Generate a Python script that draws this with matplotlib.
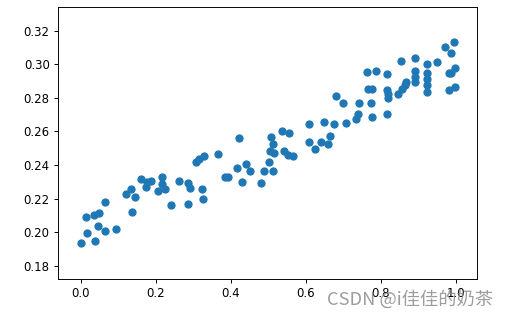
import matplotlib.pyplot as plt

x = [0.0, 0.013, 0.017, 0.037, 0.036, 0.047, 0.046, 0.064, 0.064, 0.093,
     0.12, 0.133, 0.137, 0.144, 0.16, 0.173, 0.175, 0.188, 0.217, 0.217,
     0.206, 0.224, 0.24, 0.262, 0.286, 0.291, 0.286, 0.323, 0.326, 0.307,
     0.316, 0.329, 0.366, 0.384, 0.393, 0.422, 0.415, 0.43, 0.439, 0.452,
     0.48, 0.489, 0.513, 0.502, 0.504, 0.515, 0.513, 0.506, 0.535, 0.555,
     0.542, 0.553, 0.566, 0.609, 0.609, 0.624, 0.64, 0.66, 0.664, 0.649,
     0.675, 0.68, 0.699, 0.706, 0.733, 0.739, 0.742, 0.764, 0.787, 0.766,
     0.775, 0.773, 0.777, 0.815, 0.815, 0.818, 0.82, 0.815, 0.846, 0.855,
     0.864, 0.868, 0.853, 0.892, 0.892, 0.892, 0.892, 0.922, 0.922, 0.922,
     0.922, 0.922, 0.95, 0.972, 0.995, 0.988, 0.997, 0.988, 0.981, 0.982,
     0.997]
y = [0.1935, 0.2093, 0.1994, 0.195, 0.2103, 0.2113, 0.2038, 0.201, 0.2182, 0.2018,
     0.2228, 0.2256, 0.2123, 0.2212, 0.2315, 0.2271, 0.2297, 0.2307, 0.2327, 0.2285,
     0.2248, 0.2256, 0.2161, 0.2307, 0.2295, 0.2262, 0.2167, 0.2256, 0.2196, 0.2417,
     0.2434, 0.2456, 0.2464, 0.2331, 0.2331, 0.2563, 0.2385, 0.2301, 0.2404, 0.2367,
     0.2295, 0.2367, 0.2367, 0.242, 0.2484, 0.2474, 0.2524, 0.2569, 0.2605, 0.2589,
     0.2486, 0.246, 0.2456, 0.2642, 0.2539, 0.2494, 0.2535, 0.2524, 0.2575, 0.2658,
     0.2642, 0.2813, 0.2771, 0.2648, 0.2673, 0.2703, 0.2771, 0.2956, 0.2962, 0.2851,
     0.2851, 0.2768, 0.2688, 0.2942, 0.2847, 0.2821, 0.2801, 0.2702, 0.2821, 0.2851,
     0.2877, 0.2896, 0.3021, 0.3035, 0.2962, 0.2926, 0.2896, 0.3002, 0.2946, 0.291,
     0.2877, 0.2837, 0.3015, 0.3105, 0.3129, 0.3069, 0.2979, 0.295, 0.295, 0.2847,
     0.2863]

fig = plt.figure(figsize=(6, 320 / 85), dpi=85)
ax = fig.add_axes([58 / 510, 1 - 279 / 320, (477 - 58) / 510, (279 - 7) / 320])
ax.scatter(x, y)
ax.set_xlim(-0.061, 1.056)
ax.set_ylim(0.1722, 0.334)
ax.set_yticks([0.18, 0.20, 0.22, 0.24, 0.26, 0.28, 0.30, 0.32])

# CSDN watermark, sits over the x tick labels like in the original
fig.text(0.967, 0.0625, 'CSDN @i佳佳的奶茶', ha='right', va='center', fontsize=15.5,
         color='#8c8c8c', alpha=0.85, family=['Noto Sans CJK SC', 'DejaVu Sans'])

fig.savefig('out.png', dpi=85)
